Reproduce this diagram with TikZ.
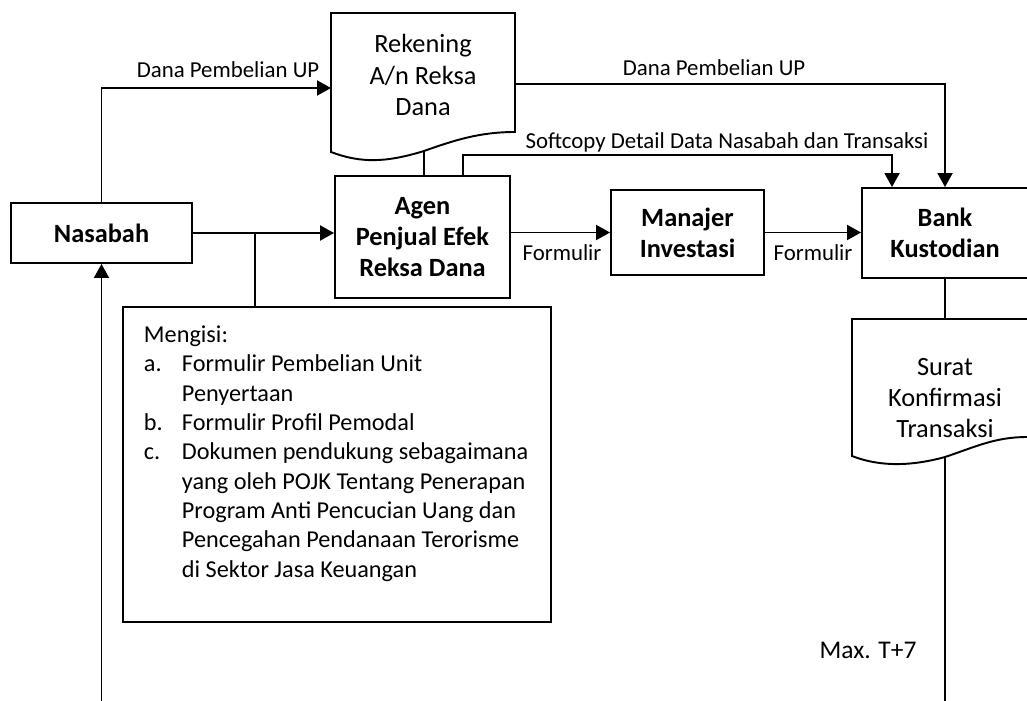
\documentclass[tikz,border=0pt]{standalone}
\usepackage{fontspec}
\setmainfont{Carlito}
\usetikzlibrary{positioning,arrows.meta}

\begin{document}
\begin{tikzpicture}
[
x=0.02cm, y=-0.02cm,
line width=1.1pt,
box-a/.style={rectangle, draw, align=center, font=\fontsize{15}{17.8}\selectfont\bfseries},
doc-t/.style={align=center, font=\fontsize{15}{17.8}\selectfont},
text-a/.style={inner sep=0, font=\fontsize{13}{15}\selectfont},
arr/.style={-{Triangle[length=0.28cm, width=0.3cm]}}
]

\useasboundingbox (0,0) rectangle (1027,700);

\node (nasabah)  [box-a, minimum width=3.62cm, minimum height=1.2cm]  at (101.5,233) {Nasabah};
\node (agen)     [box-a, minimum width=3.5cm,  minimum height=2.44cm] at (422.5,237) {Agen\\Penjual Efek\\Reksa Dana};
\node (manajer)  [box-a, minimum width=3.06cm, minimum height=1.7cm]  at (687.5,232.5) {Manajer\\Investasi};
\node (bank)     [box-a, minimum width=3.32cm, minimum height=1.8cm]  at (945,233) {Bank\\Kustodian};
\node (memo)     [draw, minimum width=8.56cm, minimum height=6.3cm]   at (337,464.5) {};
\node (memo-txt) [anchor=north west, inner sep=0, font=\fontsize{13.8}{16.7}\selectfont] at (143,321)
{\begin{tabular}{@{}p{0.76cm}@{}l@{}}
\multicolumn{2}{@{}l@{}}{Mengisi:}\\
a. & Formulir Pembelian Unit\\
   & Penyertaan\\
b. & Formulir Profil Pemodal\\
c. & Dokumen pendukung sebagaimana\\
   & yang oleh POJK Tentang Penerapan\\
   & Program Anti Pencucian Uang dan\\
   & Pencegahan Pendanaan Terorisme\\
   & di Sektor Jasa Keuangan
\end{tabular}};

\draw (331,13) -- (515,13) -- (515,132) .. controls (480,132) and (455,140) .. (424,151) coordinate (rek-b)
      .. controls (385,163) and (360,163) .. (331,152) -- cycle;
\node (rekening) [doc-t] at (423,75) {Rekening\\A/n Reksa\\Dana};

\draw (852,319) -- (1045,319) -- (1045,437) -- (1027,437) .. controls (995,437) and (975,447) .. (945,457) coordinate (sur-b)
      .. controls (905,468) and (875,465) .. (852,456) -- cycle;
\node (surat)    [doc-t] at (945,398) {Surat\\Konfirmasi\\Transaksi};

\node (lbl-dana-1) [text-a] at (228,70)  {Dana Pembelian UP};
\node (lbl-dana-2) [text-a] at (714,68)  {Dana Pembelian UP};
\node (lbl-soft)   [text-a] at (727,142) {Softcopy Detail Data Nasabah dan Transaksi};
\node (lbl-form-1) [text-a] at (562,253) {Formulir};
\node (lbl-form-2) [text-a] at (813,253) {Formulir};
\node (lbl-max)    [text-a, font=\fontsize{14.5}{16}\selectfont] at (868,650) {Max. T+7};

\coordinate (rek-w)   at (331,88);
\coordinate (rek-e)   at (515,84);
\coordinate (soft-a)  at (463,176);
\coordinate (sur-t)   at (945,319);
\coordinate (split)   at (255,233);
\coordinate (nas-end) at (101.5,705);
\coordinate (sur-end) at (945,705);

\draw [arr] (nasabah.north) |- (rek-w);
\draw [arr] (rek-e) -| (bank.north);
\draw [arr] (soft-a) -- ++(0,-21) -| ([xshift=-1.06cm]bank.north);
\draw (rek-b) -- (rek-b |- agen.north);
\draw [arr] (nasabah.east) -- (nasabah.east -| agen.west);
\draw (split) -- (split |- memo.north);
\draw [arr] (agen.east |- manajer.west) -- (manajer.west);
\draw [arr] (manajer.east) -- (manajer.east -| bank.west);
\draw (bank.south) -- (sur-t);
\draw (sur-b) -- (sur-end);
\draw [arr] (nas-end) -- (nasabah.south);

\end{tikzpicture}
\end{document}
